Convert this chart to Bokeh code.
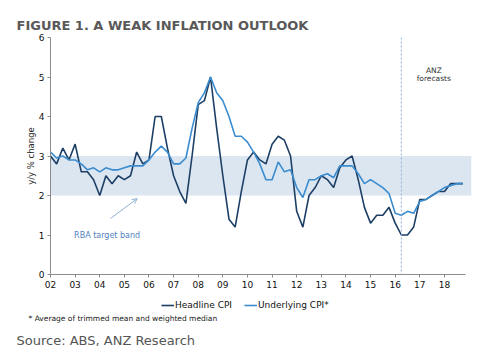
from bokeh.plotting import figure
from bokeh.layouts import column
from bokeh.models import (ColumnDataSource, BoxAnnotation, Span, Label, Arrow, OpenHead,
                          FixedTicker, Legend, LegendItem, Range1d)
from bokeh.embed import file_html
from bokeh.resources import INLINE

# ---------------- data ----------------
n_quarters = 68  # 2002 Q1 .. 2018 Q4
quarter_pos = [2002 + i / 4 for i in range(n_quarters)]

headline_cpi = [3.0, 2.8, 3.2, 2.9, 3.3, 2.6, 2.6, 2.4,
                2.0, 2.5, 2.3, 2.5, 2.4, 2.5, 3.1, 2.8,
                2.9, 4.0, 4.0, 3.2, 2.5, 2.1, 1.8, 3.0,
                4.3, 4.4, 5.0, 3.7, 2.5, 1.4, 1.2, 2.1,
                2.9, 3.1, 2.9, 2.8, 3.3, 3.5, 3.4, 3.0,
                1.6, 1.2, 2.0, 2.2, 2.5, 2.4, 2.2, 2.7,
                2.9, 3.0, 2.4, 1.7, 1.3, 1.5, 1.5, 1.7,
                1.3, 1.0, 1.0, 1.2, 1.9, 1.9, 2.0, 2.1,
                2.1, 2.3, 2.3, 2.3]

underlying_cpi = [3.1, 2.95, 3.0, 2.9, 2.9, 2.8, 2.65, 2.7,
                  2.6, 2.7, 2.65, 2.65, 2.7, 2.75, 2.75, 2.75,
                  2.9, 3.1, 3.25, 3.1, 2.8, 2.8, 2.95, 3.7,
                  4.35, 4.6, 5.0, 4.6, 4.4, 4.0, 3.5, 3.5,
                  3.35, 3.1, 2.8, 2.4, 2.4, 2.85, 2.6, 2.65,
                  2.2, 1.95, 2.4, 2.4, 2.5, 2.55, 2.45, 2.75,
                  2.75, 2.75, 2.55, 2.3, 2.4, 2.3, 2.2, 2.05,
                  1.55, 1.5, 1.6, 1.55, 1.85, 1.9, 2.0, 2.1,
                  2.2, 2.25, 2.3, 2.3]

year_ticks = list(range(2002, 2019))
year_labels = ["02", "03", "04", "05", "06", "07", "08", "09", "10",
               "11", "12", "13", "14", "15", "16", "17", "18"]

band_low, band_high = 2, 3
forecast_start = 2016.25

FONT = "DejaVu Sans"
HEAD_COLOR = "#1d3f66"
UNDER_COLOR = "#3a8ccf"

src = ColumnDataSource(dict(x=quarter_pos, head=headline_cpi, under=underlying_cpi))

W = 490
p = figure(width=W, height=294, output_backend="svg", toolbar_location=None,
           x_range=(2002, 2019.1), y_range=(0, 6),
           min_border_left=50, min_border_right=19, min_border_top=37, min_border_bottom=20)
p.outline_line_color = None
p.xgrid.visible = False
p.ygrid.visible = False
p.background_fill_color = "white"
p.border_fill_color = "white"

# title
p.title.text = "FIGURE 1. A WEAK INFLATION OUTLOOK"
p.title.text_font = FONT
p.title.text_font_size = "13px"
p.title.text_font_style = "bold"
p.title.text_color = "#595959"
p.title.offset = -34

# target band
p.add_layout(BoxAnnotation(left=2002, right=2019.1, bottom=band_low, top=band_high,
                           fill_color="#dce6f1", fill_alpha=1, line_color=None, level="underlay"))

# forecast line
p.add_layout(Span(location=forecast_start, dimension="height", line_color="#8fb0d8",
                  line_width=1, line_dash="2 2"))

r_head = p.line("x", "head", source=src, line_color=HEAD_COLOR, line_width=1.6)
r_under = p.line("x", "under", source=src, line_color=UNDER_COLOR, line_width=1.6)

# axes
p.xaxis.ticker = FixedTicker(ticks=year_ticks)
p.xaxis.major_label_overrides = {y: l for y, l in zip(year_ticks, year_labels)}
p.xaxis.bounds = (2002, 2018.87)
p.yaxis.ticker = FixedTicker(ticks=[0, 1, 2, 3, 4, 5, 6])
for ax in (p.xaxis, p.yaxis):
    ax.axis_line_color = "#8c8c8c"
    ax.major_tick_line_color = "#8c8c8c"
    ax.major_tick_out = 3
    ax.major_tick_in = 0
    ax.minor_tick_line_color = None
    ax.major_label_text_font = FONT
    ax.major_label_text_font_size = "9px"
    ax.major_label_text_color = "#111111"
    ax.major_label_standoff = 3
p.yaxis.axis_label = "y/y % change"
p.yaxis.axis_label_text_font = FONT
p.yaxis.axis_label_text_font_size = "8.5px"
p.yaxis.axis_label_text_font_style = "normal"
p.yaxis.axis_label_text_color = "#222222"
p.yaxis.axis_label_standoff = 0

# annotations
p.add_layout(Label(x=2017.57, y=5.16, text="ANZ", text_font=FONT, text_font_size="7.5px",
                   text_color="#333333", text_align="center", text_baseline="middle"))
p.add_layout(Label(x=2017.57, y=4.96, text="forecasts", text_font=FONT, text_font_size="7.5px",
                   text_color="#333333", text_align="center", text_baseline="middle"))
p.add_layout(Label(x=2004.3, y=1.0, text="RBA target band", text_font=FONT, text_font_size="8px",
                   text_color="#4f7fbf", text_align="center", text_baseline="middle"))
p.add_layout(Arrow(x_start=2004.44, y_start=1.42, x_end=2005.52, y_end=1.92,
                   line_color="#8eaed4", line_width=1,
                   end=OpenHead(size=5, line_color="#8eaed4", line_width=1)))


def strip(height, top=0):
    f = figure(width=W, height=height, output_backend="svg", toolbar_location=None,
               x_range=Range1d(0, 1), y_range=Range1d(0, 1),
               min_border_left=50, min_border_right=19, min_border_top=top, min_border_bottom=0)
    f.axis.visible = False
    f.grid.visible = False
    f.outline_line_color = None
    f.background_fill_color = "white"
    f.border_fill_color = "white"
    return f


# ---------------- legend strip ----------------
p2 = strip(17)
nan = float("nan")
k_head = p2.line(x=[nan], y=[nan], line_color=HEAD_COLOR, line_width=1.6)
k_under = p2.line(x=[nan], y=[nan], line_color=UNDER_COLOR, line_width=1.6)
legend = Legend(items=[LegendItem(label="Headline CPI", renderers=[k_head]),
                       LegendItem(label="Underlying CPI*", renderers=[k_under])],
                orientation="horizontal", location=(111, 0),
                label_text_font=FONT, label_text_font_size="9px", label_text_color="#111111",
                label_text_font_style="normal",
                glyph_width=13, glyph_height=12, label_standoff=1, spacing=12,
                padding=2, margin=0, border_line_color=None, background_fill_alpha=0)
p2.add_layout(legend)

# ---------------- footnote ----------------
p3 = strip(19)
p3.title.text = "* Average of trimmed mean and weighted median"
p3.title.text_font = FONT
p3.title.text_font_size = "7.5px"
p3.title.text_font_style = "normal"
p3.title.text_color = "#222222"
p3.title.offset = -22
p3.title.standoff = 0

# ---------------- source ----------------
p4 = strip(30, top=3)
p4.title.text = "Source: ABS, ANZ Research"
p4.title.text_font = FONT
p4.title.text_font_size = "13px"
p4.title.text_font_style = "normal"
p4.title.text_color = "#555555"
p4.title.offset = -34
p4.title.standoff = 0

layout = column(p, p2, p3, p4, spacing=0)
open("out.html", "w").write(file_html(layout, INLINE))
